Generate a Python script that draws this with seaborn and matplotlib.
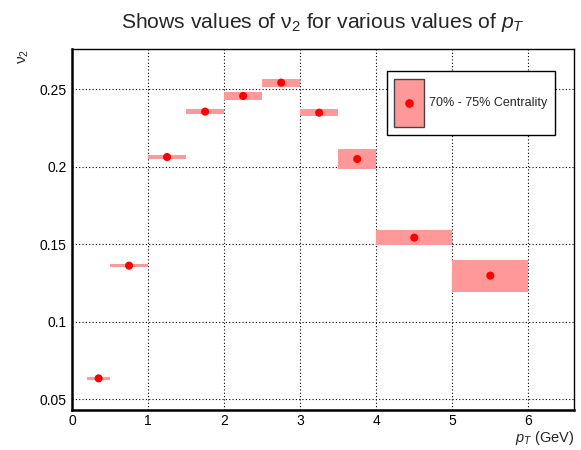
import matplotlib
matplotlib.use("Agg")
import matplotlib.pyplot as plt
from matplotlib.patches import Rectangle
from matplotlib.lines import Line2D
from matplotlib.legend_handler import HandlerBase
from matplotlib.ticker import MultipleLocator, FixedLocator, FixedFormatter
import seaborn as sns
import pandas as pd
import numpy as np

# ---- data ----
pt_low = [0.2, 0.5, 1.0, 1.5, 2.0, 2.5, 3.0, 3.5, 4.0, 5.0]
pt_high = [0.5, 1.0, 1.5, 2.0, 2.5, 3.0, 3.5, 4.0, 5.0, 6.0]
pt_center = [0.35, 0.75, 1.25, 1.75, 2.25, 2.75, 3.25, 3.75, 4.5, 5.5]
v2 = [0.0635, 0.1362, 0.2063, 0.2356, 0.2457, 0.2543, 0.2349, 0.2050, 0.1543, 0.1298]
v2_sys = [0.0010, 0.0010, 0.0010, 0.0016, 0.0023, 0.0026, 0.0022, 0.0067, 0.0049, 0.0103]
x_ticks = [0, 1, 2, 3, 4, 5, 6]
x_tick_labels = ["0", "1", "2", "3", "4", "5", "6"]
y_ticks = [0.05, 0.10, 0.15, 0.20, 0.25]
y_tick_labels = ["0.05", "0.1", "0.15", "0.2", "0.25"]
legend_label = "70% - 75% Centrality"
title = r"Shows values of $\mathrm{\nu}_2$ for various values of $p_T$"

df = pd.DataFrame({"pt": pt_center, "v2": v2, "lo": pt_low, "hi": pt_high, "err": v2_sys})

sns.set_style("white")
plt.rcParams["font.family"] = ["Liberation Sans", "DejaVu Sans"]
plt.rcParams["mathtext.fontset"] = "custom"
plt.rcParams["mathtext.rm"] = "Liberation Sans"
plt.rcParams["mathtext.it"] = "Liberation Sans:italic"
plt.rcParams["mathtext.bf"] = "Liberation Sans:bold"

fig = plt.figure(figsize=(5.81, 4.50), dpi=100)
ax = fig.add_axes([72 / 581, 1 - 409.5 / 450, (574 - 72) / 581, (409.5 - 49) / 450])

fill_col = "#ff9999"
widths = [h - l for l, h in zip(pt_low, pt_high)]
ax.bar(df["lo"], 2 * df["err"], bottom=df["v2"] - df["err"], width=widths,
       align="edge", color=fill_col, linewidth=0, zorder=2)
sns.scatterplot(data=df, x="pt", y="v2", ax=ax, color="red", s=34,
                edgecolor="none", linewidth=0, zorder=3, legend=False)

ax.set_xlim(0, 6.6)
ax.set_ylim(0.0434, 0.276)

ax.xaxis.set_major_locator(FixedLocator(x_ticks))
ax.xaxis.set_major_formatter(FixedFormatter(x_tick_labels))
ax.xaxis.set_minor_locator(MultipleLocator(0.2))
ax.yaxis.set_major_locator(FixedLocator(y_ticks))
ax.yaxis.set_major_formatter(FixedFormatter(y_tick_labels))
ax.yaxis.set_minor_locator(MultipleLocator(0.01))

ax.tick_params(axis="both", which="both", direction="in", colors="black",
               labelsize=10, top=False, right=False)
ax.tick_params(axis="y", which="major", length=10, width=1.3, pad=4)
ax.tick_params(axis="y", which="minor", length=5.8, width=1.0)
ax.tick_params(axis="x", which="major", length=7, width=1.3, pad=3)
ax.tick_params(axis="x", which="minor", length=3.6, width=1.0)

ax.grid(True, which="major", color="black", linestyle=(0, (1, 2)), linewidth=0.8, zorder=1)
ax.set_axisbelow(True)

for side in ["left", "bottom"]:
    ax.spines[side].set_linewidth(1.8)
    ax.spines[side].set_color("black")
for side in ["top", "right"]:
    ax.spines[side].set_linewidth(1.0)
    ax.spines[side].set_color("black")
    ax.spines[side].set_visible(True)

ax.set_xlabel(r"$p_T$ (GeV)", loc="right", fontsize=10.5, labelpad=1)
ax.set_ylabel(r"$\mathrm{\nu}_2$", loc="top", fontsize=11, labelpad=6)
fig.text((72 + 574) / 2 / 581, 1 - 22 / 450, title, ha="center", va="center", fontsize=15.2)


class BoxDotHandler(HandlerBase):
    def create_artists(self, legend, orig_handle, xdescent, ydescent, width, height,
                       fontsize, trans):
        r = Rectangle((-xdescent, -ydescent), width, height, facecolor=fill_col,
                      edgecolor="#444444", linewidth=1.0, transform=trans)
        m = Line2D([-xdescent + width / 2], [-ydescent + height / 2], marker="o",
                   color="red", linestyle="none", markersize=5.2, transform=trans)
        return [r, m]


handle = Rectangle((0, 0), 1, 1)
leg = ax.legend([handle], [legend_label], handler_map={Rectangle: BoxDotHandler()},
                loc="upper left", bbox_to_anchor=(0.627, 0.938), fontsize=9,
                frameon=True, fancybox=False, shadow=False, borderpad=0.6,
                handlelength=2.35, handleheight=5.6, handletextpad=0.45, borderaxespad=0)
leg.get_frame().set_edgecolor("black")
leg.get_frame().set_linewidth(1.0)
leg.get_frame().set_alpha(1)

fig.savefig("out.png", dpi=100)
